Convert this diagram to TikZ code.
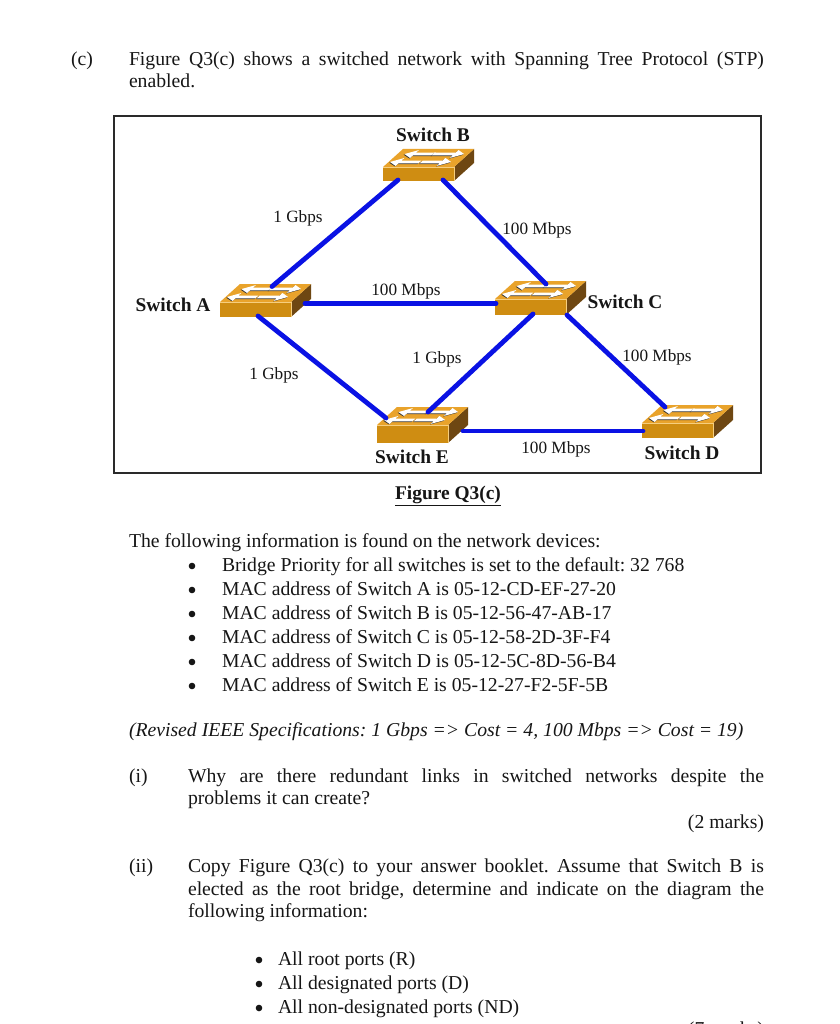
\documentclass[tikz,border=0pt]{standalone}
\usepackage{fontspec}
\setmainfont{Liberation Serif}
\frenchspacing
\definecolor{swtop}{HTML}{E9A32B}
\definecolor{swfront}{HTML}{CF8D12}
\definecolor{swside}{HTML}{6E4712}
\definecolor{swedge}{HTML}{F6CE7E}
\definecolor{linkblue}{HTML}{0A12E4}
\definecolor{frameink}{HTML}{2A2A2A}
\definecolor{ink}{HTML}{161616}
\tikzset{
  body/.style={anchor=base west,inner sep=0pt,outer sep=0pt,text=ink,font=\fontsize{19.7}{24}\selectfont},
  bodyright/.style={body,anchor=base east},
  dot/.style={circle,fill=ink,draw=none,inner sep=0pt,outer sep=0pt,minimum size=6.6pt},
  netlabel/.style={inner sep=0pt,text=ink,font=\fontsize{17.2}{20}\selectfont},
  swlabel/.style={inner sep=0pt,text=ink,font=\fontsize{19.4}{22}\selectfont\bfseries},
  swbox/.style={draw=none,inner sep=0pt,outer sep=0pt,minimum width=92pt},
  link/.style={draw=linkblue,line width=4.8pt,line cap=round},
  frame/.style={draw=frameink,line width=1.3pt,inner sep=0pt},
}
\newcommand{\padarrow}[4]{%
  \fill[black!80] (#1,#4+.02) -- (#2,#4+.02) -- (#2,#4+.15) -- (#3,#4-.04) -- (#2,#4-.25) -- (#2,#4-.12) -- (#1,#4-.12) -- cycle;
  \fill[white] (#1,#4+.08) -- (#2,#4+.08) -- (#2,#4+.22) -- (#3,#4) -- (#2,#4-.22) -- (#2,#4-.08) -- (#1,#4-.08) -- cycle;}
\newcommand{\switchbox}[4]{%
  % name, front-left x, front-top y, front height
  \fill[swfront] (#2,#3) rectangle (#2+71,#3+#4);
  \fill[swside] (#2+71,#3) -- (#2+91,#3-18) -- (#2+91,#3-18+#4) -- (#2+71,#3+#4) -- cycle;
  \fill[swtop] (#2,#3) -- (#2+20,#3-18) -- (#2+91,#3-18) -- (#2+71,#3) -- cycle;
  \draw[swedge,line width=.7pt] (#2,#3) -- (#2+71,#3) -- (#2+71,#3+#4);
  \begin{scope}[shift={(#2,#3)},x={(71pt,0pt)},y={(20pt,18pt)}]
    \padarrow{.52}{.24}{.10}{.72}
    \padarrow{.50}{.80}{.94}{.72}
    \padarrow{.44}{.16}{.02}{.28}
    \padarrow{.46}{.74}{.88}{.28}
  \end{scope}
  \node[swbox,minimum height=#4pt+18pt] (#1) at (#2+46,#3+#4/2-9) {};}
\newcommand{\jline}[5]{\node[body] (#1) at (#2,#3) {\makebox[#4pt][s]{#5}};}
\newcommand{\tline}[4]{\node[body] (#1) at (#2,#3) {#4};}
\newcommand{\bul}[3]{\node[dot] (#1) at (#2,#3) {};}
\begin{document}
\begin{tikzpicture}[x=1pt,y=-1pt]
\useasboundingbox (0,0) rectangle (839,1024);
\clip (0,0) rectangle (839,1024);
\fill[white] (0,0) rectangle (839,1024);

\tline{c}{71}{66}{(c)}
\jline{l1}{129}{66}{635}{Figure Q3(c) shows a switched network with Spanning Tree Protocol (STP)}
\tline{l2}{129}{88}{enabled.}

\node[frame,minimum width=647pt,minimum height=357pt] (fig) at (437.5,294.5) {};

\switchbox{B}{383}{167}{14}
\switchbox{A}{220}{302}{15}
\switchbox{C}{495}{299}{16}
\switchbox{E}{377}{425}{18}
\switchbox{D}{642}{423}{15}

\draw[link] ([shift={(6,-14)}]A.center) -- ([shift={(-31,15)}]B.center);
\draw[link] ([shift={(14,15)}]B.center) -- ([shift={(5,-14)}]C.center);
\draw[link] ([shift={(39,3)}]A.center) -- ([shift={(-45,5.5)}]C.center);
\draw[link] ([shift={(-8,15.5)}]A.center) -- ([shift={(-37,-7)}]E.center);
\draw[link] ([shift={(-8,16)}]C.center) -- ([shift={(5,-13)}]E.center);
\draw[link] ([shift={(26,17)}]C.center) -- ([shift={(-23,-14.5)}]D.center);
\draw[link] ([shift={(40,6)}]E.center) -- ([shift={(-45,9.5)}]D.center);

\node[swlabel] (nb) at (433,135) {Switch B};
\node[swlabel] (na) at (173,305) {Switch A};
\node[swlabel] (nc) at (625,302) {Switch C};
\node[swlabel] (ne) at (412,457) {Switch E};
\node[swlabel] (nd) at (682,453) {Switch D};

\node[netlabel] (r1) at (298,218) {1 Gbps};
\node[netlabel] (r2) at (537,230) {100 Mbps};
\node[netlabel] (r3) at (406,291) {100 Mbps};
\node[netlabel] (r4) at (437,359) {1 Gbps};
\node[netlabel] (r5) at (657,357) {100 Mbps};
\node[netlabel] (r6) at (274,375) {1 Gbps};
\node[netlabel] (r7) at (556,449) {100 Mbps};

\node[swlabel] (cap) at (448,496) {\underline{Figure Q3(c)}};

\tline{i0}{129}{547}{The following information is found on the network devices:}
\bul{b1}{192}{566}\tline{i1}{222}{571}{Bridge Priority for all switches is set to the default: 32 768}
\bul{b2}{192}{590}\tline{i2}{222}{595}{MAC address of Switch A is 05-12-CD-EF-27-20}
\bul{b3}{192}{614}\tline{i3}{222}{619}{MAC address of Switch B is 05-12-56-47-AB-17}
\bul{b4}{192}{638}\tline{i4}{222}{643}{MAC address of Switch C is 05-12-58-2D-3F-F4}
\bul{b5}{192}{662}\tline{i5}{222}{667}{MAC address of Switch D is 05-12-5C-8D-56-B4}
\bul{b6}{192}{686}\tline{i6}{222}{691}{MAC address of Switch E is 05-12-27-F2-5F-5B}

\tline{rev}{129}{736}{\itshape (Revised IEEE Specifications: 1 Gbps => Cost = 4, 100 Mbps => Cost = 19)}

\tline{qi}{129}{782}{(i)}
\jline{q1}{188}{782}{576}{Why are there redundant links in switched networks despite the}
\tline{q2}{188}{804}{problems it can create?}
\node[bodyright] (m1) at (764,828) {(2 marks)};

\tline{qii}{129}{872}{(ii)}
\jline{q3}{188}{872}{576}{Copy Figure Q3(c) to your answer booklet. Assume that Switch B is}
\jline{q4}{188}{895}{576}{elected as the root bridge, determine and indicate on the diagram the}
\tline{q5}{188}{917}{following information:}

\bul{b7}{259}{960}\tline{a1}{278}{965}{All root ports (R)}
\bul{b8}{259}{984}\tline{a2}{278}{989}{All designated ports (D)}
\bul{b9}{259}{1008}\tline{a3}{278}{1013}{All non-designated ports (ND)}
\node[bodyright] (m2) at (764,1035) {(7 marks)};
\end{tikzpicture}
\end{document}
